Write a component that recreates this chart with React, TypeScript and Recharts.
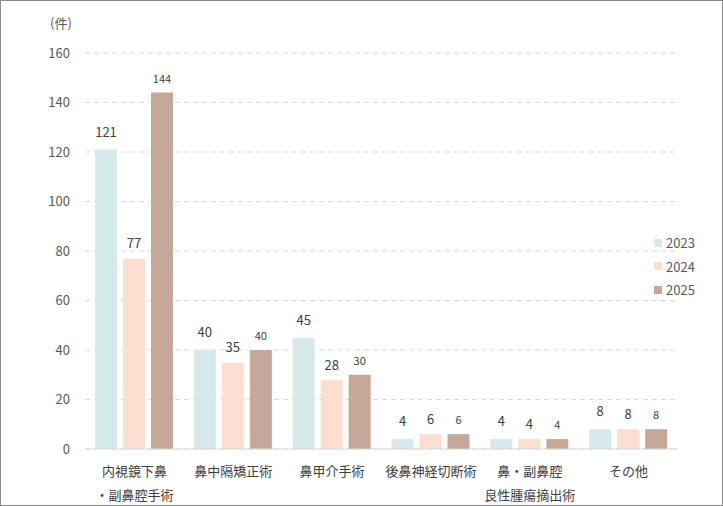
import { BarChart, Bar, XAxis, YAxis, CartesianGrid, LabelList } from 'recharts';

const categories = [
  ['内視鏡下鼻', '・副鼻腔手術'],
  ['鼻中隔矯正術'],
  ['鼻甲介手術'],
  ['後鼻神経切断術'],
  ['鼻・副鼻腔', '良性腫瘍摘出術'],
  ['その他'],
];
const values2023 = [121, 40, 45, 4, 4, 8];
const values2024 = [77, 35, 28, 6, 4, 8];
const values2025 = [144, 40, 30, 6, 4, 8];
const yTicks = [0, 20, 40, 60, 80, 100, 120, 140, 160];

const SERIES = [
  { key: 'y2023', name: '2023', color: '#d6e9eb', labelSize: 13, offset: 13 },
  { key: 'y2024', name: '2024', color: '#fddfd0', labelSize: 13, offset: 10 },
  { key: 'y2025', name: '2025', color: '#c6a898', labelSize: 11, offset: 10 },
];

const data = categories.map((lines, i) => ({
  name: lines.join(''),
  lines,
  y2023: values2023[i],
  y2024: values2024[i],
  y2025: values2025[i],
}));

const FONT = '"Noto Sans CJK JP", "Noto Sans", sans-serif';

function CategoryTick({ x, y, payload }: any) {
  const lines = categories[payload.index] || [payload.value];
  return (
    <text x={x} y={y} textAnchor="middle" fill="#404040" fontSize={13} fontFamily={FONT}>
      {lines.map((line: string, i: number) => (
        <tspan key={i} x={x} dy={i === 0 ? 19 : 24}>
          {line}
        </tspan>
      ))}
    </text>
  );
}

export default function App() {
  return (
    <div
      style={{
        position: 'fixed',
        left: 0,
        top: 0,
        width: 723,
        height: 506,
        boxSizing: 'border-box',
        border: '1px solid #8c8c8c',
        background: '#fff',
        fontFamily: FONT,
      }}
    >
      <div style={{ position: 'absolute', left: 49, top: 12, fontSize: 13, color: '#595959' }}>(件)</div>
      <div style={{ position: 'absolute', left: 653, top: 230, fontSize: 13, color: '#595959' }}>
        {SERIES.map((s) => (
          <div key={s.key} style={{ display: 'flex', alignItems: 'center', height: 23.5 }}>
            <span style={{ width: 8, height: 8, background: s.color, marginRight: 4, display: 'inline-block' }} />
            {s.name}
          </div>
        ))}
      </div>
      <BarChart
        width={721}
        height={504}
        data={data}
        margin={{ top: 52, right: 44, bottom: 0, left: 0 }}
        barGap={6}
      >
        <CartesianGrid vertical={false} stroke="#d9d9d9" strokeDasharray="5 4" />
        <XAxis
          dataKey="name"
          tick={<CategoryTick />}
          tickLine={false}
          axisLine={{ stroke: '#d9d9d9' }}
          height={56}
          interval={0}
        />
        <YAxis
          domain={[0, 160]}
          ticks={yTicks}
          width={84}
          tickLine={false}
          axisLine={false}
          tickMargin={9}
          tick={{ fill: '#595959', fontSize: 13, fontFamily: FONT }}
        />
        {SERIES.map((s) => (
          <Bar key={s.key} dataKey={s.key} name={s.name} fill={s.color} barSize={22} isAnimationActive={false}>
            <LabelList
              dataKey={s.key}
              position="top"
              offset={s.offset}
              fill="#404040"
              fontSize={s.labelSize}
              fontFamily={FONT}
            />
          </Bar>
        ))}
      </BarChart>
    </div>
  );
}
